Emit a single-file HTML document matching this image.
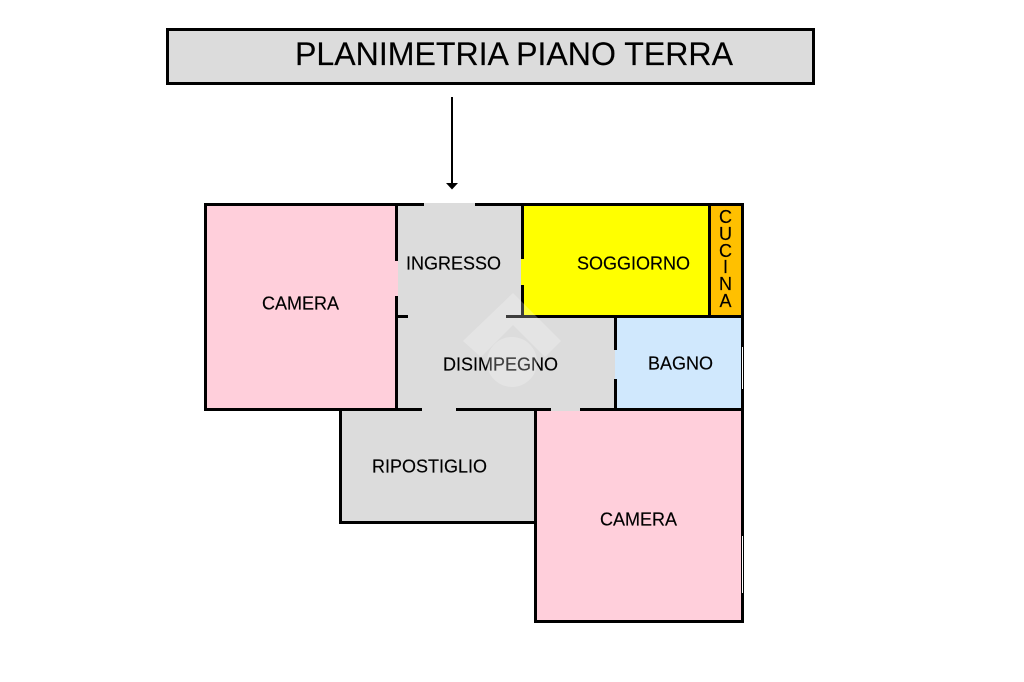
<!DOCTYPE html>
<html><head><meta charset="utf-8"><style>
html,body{margin:0;padding:0;background:#fff;width:1024px;height:682px;overflow:hidden}
svg{display:block}
text{font-family:"Liberation Sans",sans-serif;fill:#000;stroke:#000;stroke-width:.15}
</style></head><body>
<svg width="1024" height="682" viewBox="0 0 1024 682" xmlns="http://www.w3.org/2000/svg">
<!-- title -->
<rect x="166" y="28" width="649" height="57" fill="#000"/>
<rect x="169" y="31" width="643" height="51" fill="#dcdcdc"/>
<text x="295" y="65" font-size="32" textLength="438" lengthAdjust="spacingAndGlyphs">PLANIMETRIA PIANO TERRA</text>
<!-- arrow -->
<rect x="451" y="97" width="2" height="88" fill="#000"/>
<polygon points="446,183 458,183 452,189.500" fill="#000"/>
<!-- room fills -->
<rect x="204" y="203" width="194" height="208" fill="#ffcfdb"/>
<rect x="398" y="203" width="124" height="115" fill="#dcdcdc"/>
<rect x="398" y="316" width="218" height="95" fill="#dcdcdc"/>
<rect x="521" y="206" width="189" height="110" fill="#ffff00"/>
<rect x="710" y="203" width="33" height="114" fill="#ffc000"/>
<rect x="615" y="316" width="128" height="94" fill="#d0e8fd"/>
<rect x="340" y="411" width="196" height="112" fill="#dcdcdc"/>
<rect x="535" y="411" width="208" height="211" fill="#ffcfdb"/>
<!-- walls -->
<g fill="#000">
<!-- top -->
<rect x="204" y="203" width="220" height="3"/>
<rect x="475" y="203" width="269" height="3"/>
<!-- outer left -->
<rect x="204" y="203" width="3" height="208"/>
<!-- camera bottom / disimpegno bottom -->
<rect x="204" y="408" width="218" height="3"/>
<rect x="456" y="408" width="95" height="3"/>
<rect x="580" y="408" width="164" height="3"/>
<!-- camera/ingresso wall -->
<rect x="395" y="203" width="3" height="58"/>
<rect x="395" y="296" width="3" height="115"/>
<!-- ingresso/soggiorno wall -->
<rect x="521" y="203" width="3" height="56"/>
<rect x="521" y="285" width="3" height="33"/>
<!-- horizontal -->
<rect x="395" y="315" width="13" height="3"/>
<rect x="506" y="315" width="238" height="3"/>
<!-- cucina wall -->
<rect x="708" y="203" width="3" height="115"/>
<!-- outer right -->
<rect x="741" y="203" width="3" height="420"/>
<!-- disimpegno/bagno -->
<rect x="614" y="315" width="3" height="35"/>
<rect x="614" y="379" width="3" height="32"/>
<!-- ripostiglio -->
<rect x="339" y="408" width="3" height="116"/>
<rect x="339" y="521" width="198" height="3"/>
<rect x="534" y="408" width="3" height="215"/>
<!-- bottom -->
<rect x="534" y="620" width="210" height="3"/>
</g>
<!-- window marks -->
<rect x="742" y="347" width="1" height="42" fill="#fff"/>
<rect x="742" y="536" width="1" height="57" fill="#fff"/>
<!-- labels -->
<text x="262" y="309.500" font-size="18" textLength="77" lengthAdjust="spacingAndGlyphs">CAMERA</text>
<text x="406" y="269.500" font-size="18" textLength="95" lengthAdjust="spacingAndGlyphs">INGRESSO</text>
<text x="577" y="269.500" font-size="18" textLength="113" lengthAdjust="spacingAndGlyphs">SOGGIORNO</text>
<text x="443" y="370.500" font-size="18" textLength="115" lengthAdjust="spacingAndGlyphs">DISIMPEGNO</text>
<text x="648" y="369.500" font-size="18" textLength="65" lengthAdjust="spacingAndGlyphs">BAGNO</text>
<text x="372" y="472.500" font-size="18" textLength="115" lengthAdjust="spacingAndGlyphs">RIPOSTIGLIO</text>
<text x="600" y="525.500" font-size="18" textLength="77" lengthAdjust="spacingAndGlyphs">CAMERA</text>
<g font-size="18" text-anchor="middle">
<text x="725.500" y="223">C</text>
<text x="725.500" y="240">U</text>
<text x="725.500" y="257">C</text>
<text x="725.500" y="273">I</text>
<text x="725.500" y="290">N</text>
<text x="725.500" y="307">A</text>
</g>
<!-- watermark above everything -->
<g fill="#fff" opacity=".24">
<path d="M513 293 L561 341 L545 357 L513 325 L481 357 L463 341 Z"/>
<circle cx="512" cy="362" r="25"/>
</g>
</svg>
</body></html>
